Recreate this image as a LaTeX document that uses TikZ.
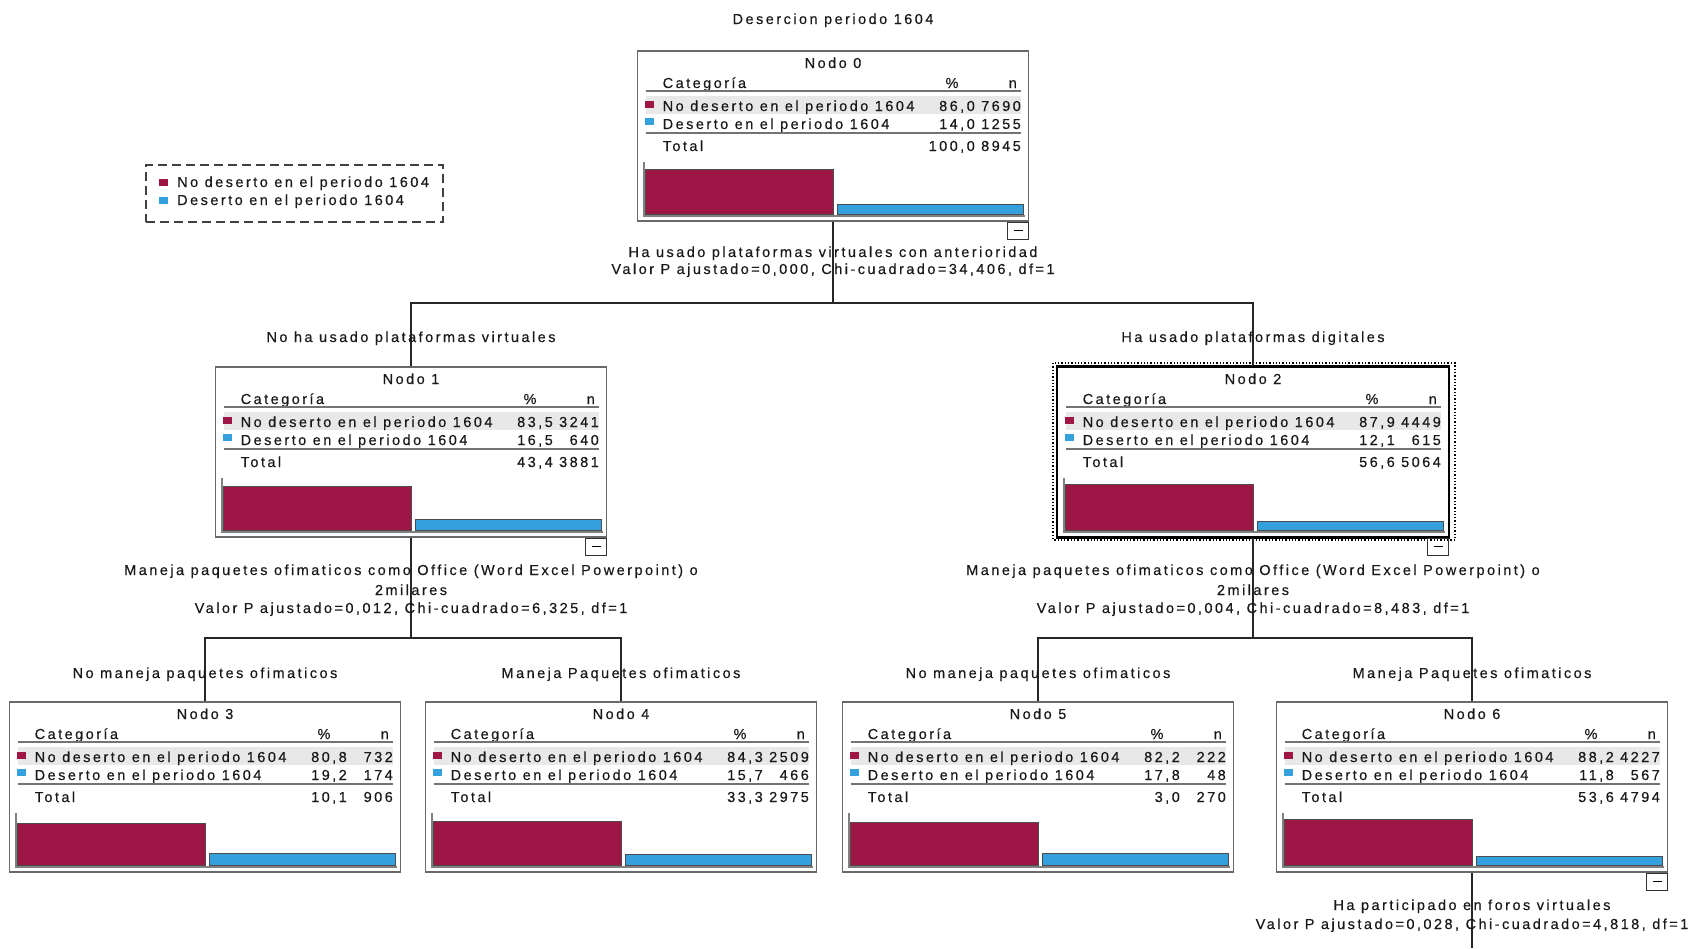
\documentclass[tikz,border=0pt]{standalone}
\usepackage{fontspec}
\setmainfont{Liberation Sans}[LetterSpace=17, FakeBold=0.35]
\usepackage{tikz}

\definecolor{nored}{RGB}{158,22,70}
\definecolor{siblue}{RGB}{52,160,222}
\definecolor{frame}{RGB}{105,105,105}
\definecolor{rowgray}{RGB}{232,232,232}

\tikzset{
	txt/.style={inner sep=0pt, font=\fontsize{14.5}{17}\selectfont, text=black!90},
	nodebox/.style={draw=frame, line width=1.2pt, minimum width=391pt, minimum height=170pt, inner sep=0pt},
	rule/.style={draw=black!55, line width=1.6pt},
	redbar/.style={fill=nored, draw=black!70, line width=0.8pt},
	bluebar/.style={fill=siblue, draw=black!70, line width=0.8pt},
	axis/.style={draw=black!50, line width=1.6pt},
	minusbox/.style={draw=black!80, line width=1pt, minimum width=21pt, minimum height=17pt, inner sep=0pt, anchor=north east},
	edge/.style={draw=black!85, line width=1.1pt},
	legendbox/.style={draw=black!75, line width=1.3pt, dash pattern=on 9pt off 5pt, minimum width=297pt, minimum height=57pt, inner sep=0pt}
}

% #1 nodo, #2 centre x, #3 top y, #4 #5 no deserto, #6 #7 deserto, #8 #9 total
\newcommand{\treenode}[9]{%
	\pgfmathsetmacro\redh{#5/#9*52}
	\pgfmathsetmacro\blueh{#7/#9*52+2}
	\draw (#2,{#3+85}) node(n#1)[nodebox]{};
	\fill[rowgray] ({#2-187.5},{#3+45}) rectangle ({#2+187.5},{#3+63});
	\draw (#2,{#3+17}) node[txt,anchor=base]{Nodo #1};
	\draw ({#2-170.5},{#3+37}) node[txt,anchor=base west]{Categoría};
	\draw ({#2+119},{#3+37}) node[txt,anchor=base]{\%};
	\draw ({#2+184},{#3+37}) node[txt,anchor=base east]{n};
	\path[rule] ({#2-187.5},{#3+40}) -- ({#2+187.5},{#3+40});
	\fill[nored] ({#2-188.5},{#3+50}) rectangle ({#2-179.5},{#3+57});
	\draw ({#2-170.5},{#3+60}) node[txt,anchor=base west]{No deserto en el periodo 1604};
	\draw ({#2+142},{#3+60}) node[txt,anchor=base east]{#4};
	\draw ({#2+188},{#3+60}) node[txt,anchor=base east]{#5};
	\fill[siblue] ({#2-188.5},{#3+67}) rectangle ({#2-179.5},{#3+74});
	\draw ({#2-170.5},{#3+78}) node[txt,anchor=base west]{Deserto en el periodo 1604};
	\draw ({#2+142},{#3+78}) node[txt,anchor=base east]{#6};
	\draw ({#2+188},{#3+78}) node[txt,anchor=base east]{#7};
	\path[rule] ({#2-187.5},{#3+82}) -- ({#2+187.5},{#3+82});
	\draw ({#2-170.5},{#3+100}) node[txt,anchor=base west]{Total};
	\draw ({#2+142},{#3+100}) node[txt,anchor=base east]{#8};
	\draw ({#2+188},{#3+100}) node[txt,anchor=base east]{#9};
	\path[redbar] ({#2-188},{#3+163}) rectangle (#2,{#3+163-\redh});
	\path[bluebar] ({#2+4},{#3+163}) rectangle ({#2+190},{#3+163-\blueh});
	\path[axis] ({#2-189},{#3+111}) -- ({#2-189},{#3+165}) -- ({#2+191.5},{#3+165});
}

\begin{document}
\begin{tikzpicture}[x=1pt,y=-1pt]
	\useasboundingbox (0,0) rectangle (1696,948);

	\draw (833,24) node(title)[txt,anchor=base] {Desercion periodo 1604};

	% legend
	\draw (294.5,193.5) node(legend)[legendbox] {};
	\fill[nored] (159,179) rectangle (168,186);
	\fill[siblue] (159,197) rectangle (168,204);
	\draw (177,187) node(leg1)[txt,anchor=base west] {No deserto en el periodo 1604};
	\draw (177,205) node(leg2)[txt,anchor=base west] {Deserto en el periodo 1604};

	% tree nodes
	\treenode{0}{833}{51}{86,0}{7690}{14,0}{1255}{100,0}{8945}
	\treenode{1}{411}{367}{83,5}{3241}{16,5}{640}{43,4}{3881}
	\treenode{2}{1253}{367}{87,9}{4449}{12,1}{615}{56,6}{5064}
	\treenode{3}{205}{702}{80,8}{732}{19,2}{174}{10,1}{906}
	\treenode{4}{621}{702}{84,3}{2509}{15,7}{466}{33,3}{2975}
	\treenode{5}{1038}{702}{82,2}{222}{17,8}{48}{3,0}{270}
	\treenode{6}{1472}{702}{88,2}{4227}{11,8}{567}{53,6}{4794}

	% selected node
	\draw[line width=2.6pt] (n2.north west) rectangle (n2.south east);
	\draw[dotted, line width=1.3pt] (1053,363) rectangle (1455,540);

	\foreach \k in {0,1,2,6}
		\path (n\k.south east) node(m\k)[minusbox] {\rule{9pt}{1.2pt}};

	% splits
	\coordinate (j0) at (833,303);
	\coordinate (j1) at (411,638);
	\coordinate (j2) at (1253,638);
	\coordinate (tail) at (1472,948);
	\path[edge] (n0.south) -- (j0);
	\path[edge] (j0) -| (n1.north);
	\path[edge] (j0) -| (n2.north);
	\path[edge] (n1.south) -- (j1);
	\path[edge] (j1) -| (n3.north);
	\path[edge] (j1) -| (n4.north);
	\path[edge] (n2.south) -- (j2);
	\path[edge] (j2) -| (n5.north);
	\path[edge] (j2) -| (n6.north);
	\path[edge] (n6.south) -- (tail);

	\draw (833,257) node(s0a)[txt,anchor=base] {Ha usado plataformas virtuales con anterioridad};
	\draw (833,274) node(s0b)[txt,anchor=base] {Valor P ajustado=0,000, Chi-cuadrado=34,406, df=1};
	\draw (411,342) node(b1)[txt,anchor=base] {No ha usado plataformas virtuales};
	\draw (1253,342) node(b2)[txt,anchor=base] {Ha usado plataformas digitales};

	\draw (411,575) node(s1a)[txt,anchor=base] {Maneja paquetes ofimaticos como Office (Word Excel Powerpoint) o};
	\draw (411,595) node(s1b)[txt,anchor=base] {2milares};
	\draw (411,613) node(s1c)[txt,anchor=base] {Valor P ajustado=0,012, Chi-cuadrado=6,325, df=1};
	\draw (1253,575) node(s2a)[txt,anchor=base] {Maneja paquetes ofimaticos como Office (Word Excel Powerpoint) o};
	\draw (1253,595) node(s2b)[txt,anchor=base] {2milares};
	\draw (1253,613) node(s2c)[txt,anchor=base] {Valor P ajustado=0,004, Chi-cuadrado=8,483, df=1};

	\draw (205,678) node(b3)[txt,anchor=base] {No maneja paquetes ofimaticos};
	\draw (621,678) node(b4)[txt,anchor=base] {Maneja Paquetes ofimaticos};
	\draw (1038,678) node(b5)[txt,anchor=base] {No maneja paquetes ofimaticos};
	\draw (1472,678) node(b6)[txt,anchor=base] {Maneja Paquetes ofimaticos};

	\draw (1472,910) node(s6a)[txt,anchor=base] {Ha participado en foros virtuales};
	\draw (1472,929) node(s6b)[txt,anchor=base] {Valor P ajustado=0,028, Chi-cuadrado=4,818, df=1};
\end{tikzpicture}
\end{document}
